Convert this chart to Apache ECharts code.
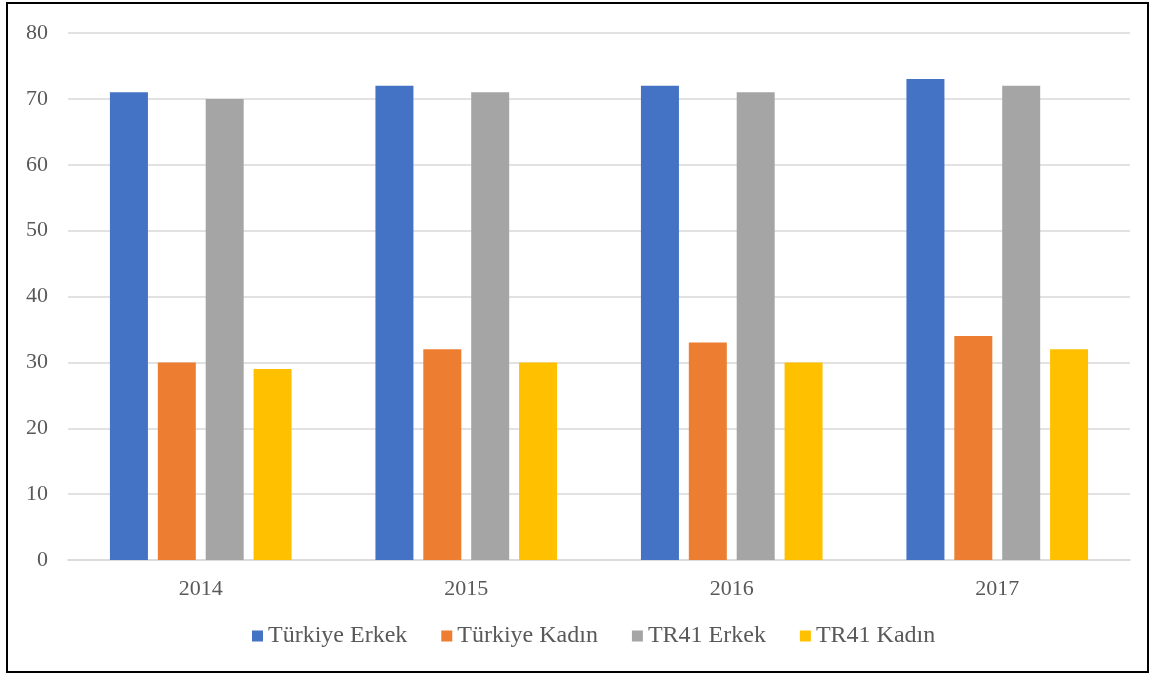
<!DOCTYPE html>
<html>
<head>
<meta charset="utf-8">
<script src="https://cdn.jsdelivr.net/npm/echarts@6/dist/echarts.min.js"></script>
<style>
  html, body { margin: 0; padding: 0; background: #fff; }
  #frame {
    position: absolute; left: 6px; top: 2px; width: 1143px; height: 671px;
    border: 2px solid #000; box-sizing: border-box;
  }
  #chart { position: absolute; left: 0; top: 0; width: 1153px; height: 677px; }
</style>
</head>
<body>
<div id="frame"></div>
<div id="chart"></div>
<script>
// yıllar ve seriler
const years = ['2014', '2015', '2016', '2017']
const turkiyeErkek = [71, 72, 72, 73]
const turkiyeKadin = [30, 32, 33, 34]
const tr41Erkek = [70, 71, 71, 72]
const tr41Kadin = [29, 30, 30, 32]

const font = '"Liberation Serif", "Times New Roman", serif'
const textColor = '#595959'

const chart = echarts.init(document.getElementById('chart'))

function bar(name, data, color) {
  return {
    name: name,
    type: 'bar',
    data: data,
    barWidth: 38,
    barGap: '26%',
    itemStyle: { color: color }
  }
}

chart.setOption({
  animation: false,
  grid: { left: 68, right: 23, top: 33, bottom: 117 },
  legend: {
    left: 247,
    bottom: 24,
    itemWidth: 11,
    itemHeight: 11,
    itemGap: 34,
    icon: 'rect',
    textStyle: { fontFamily: font, fontSize: 24, color: textColor }
  },
  xAxis: {
    type: 'category',
    data: years,
    axisLine: { lineStyle: { color: '#d9d9d9', width: 1.5 } },
    axisTick: { show: false },
    axisLabel: { fontFamily: font, fontSize: 22, color: textColor, margin: 18 }
  },
  yAxis: {
    type: 'value',
    min: 0,
    max: 80,
    interval: 10,
    axisLine: { show: false },
    axisTick: { show: false },
    splitLine: { lineStyle: { color: '#d9d9d9', width: 1.5 } },
    axisLabel: { fontFamily: font, fontSize: 22, color: textColor, margin: 20 }
  },
  series: [
    bar('Türkiye Erkek', turkiyeErkek, '#4472c4'),
    bar('Türkiye Kadın', turkiyeKadin, '#ed7d31'),
    bar('TR41 Erkek', tr41Erkek, '#a5a5a5'),
    bar('TR41 Kadın', tr41Kadin, '#ffc000')
  ]
})
</script>
</body>
</html>
